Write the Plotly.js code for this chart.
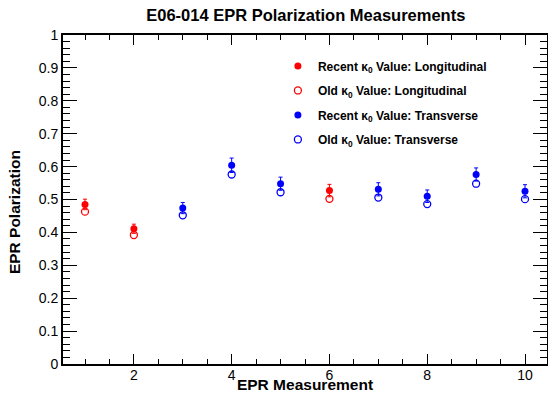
<!DOCTYPE html>
<html>
<head>
<meta charset="utf-8">
<script src="https://cdn.plot.ly/plotly-3.0.1.min.js"></script>
<style>html,body{margin:0;padding:0;background:#fff;}#chart{width:548px;height:393px;}</style>
</head>
<body>
<div id="chart"></div>
<script>
// Data
const longX = [1, 2, 6];
const longRecent = [0.485, 0.411, 0.527];
const longRecentErr = [0.016, 0.014, 0.019];
const longOld = [0.463, 0.392, 0.502];

const transX = [3, 4, 5, 7, 8, 9, 10];
const transRecent = [0.474, 0.604, 0.548, 0.531, 0.510, 0.576, 0.525];
const transRecentErr = [0.017, 0.022, 0.020, 0.020, 0.019, 0.020, 0.020];
const transOld = [0.452, 0.576, 0.522, 0.506, 0.486, 0.548, 0.501];

const seriesNames = [
  'Recent κ<sub>0</sub> Value: Longitudinal',
  'Old κ<sub>0</sub> Value: Longitudinal',
  'Recent κ<sub>0</sub> Value: Transverse',
  'Old κ<sub>0</sub> Value: Transverse'
];
const chartTitle = 'E06-014 EPR Polarization Measurements';
const xTitle = 'EPR Measurement';
const yTitle = 'EPR Polarization';

const RED = '#ff0000', BLUE = '#0000ff';
const FONT = 'Liberation Sans, Arial, Helvetica, sans-serif';

function mk(x, y, err, name, color, filled, grp) {
  const t = {
    type: 'scatter', mode: 'markers', x: x, y: y, name: name,
    legendgroup: grp,
    marker: {
      symbol: filled ? 'circle' : 'circle-open',
      size: 7, color: color,
      line: {color: color, width: filled ? 0 : 1.3}
    }
  };
  if (err) t.error_y = {type: 'data', array: err, visible: true, color: color, thickness: 1, width: 2};
  return t;
}

const traces = [
  mk(longX, longRecent, longRecentErr, seriesNames[0], RED, true, 'a'),
  mk(longX, longOld, null, seriesNames[1], RED, false, 'b'),
  mk(transX, transRecent, transRecentErr, seriesNames[2], BLUE, true, 'c'),
  mk(transX, transOld, null, seriesNames[3], BLUE, false, 'd')
];

const layout = {
  width: 548, height: 393,
  margin: {l: 63, r: 1, t: 35, b: 29},
  paper_bgcolor: '#fff', plot_bgcolor: '#fff',
  font: {family: FONT, color: '#000', size: 14},
  title: {
    text: chartTitle,
    font: {family: FONT, size: 16.5, weight: 'bold', color: '#000'},
    x: 0.558, xanchor: 'center', y: 0.962, yanchor: 'middle'
  },
  showlegend: true,
  legend: {
    x: 0.444, y: 0.95, xanchor: 'left', yanchor: 'top',
    bgcolor: 'rgba(0,0,0,0)',
    font: {family: FONT, size: 12, weight: 'bold', color: '#000'},
    traceorder: 'grouped', tracegroupgap: 5.5
  },
  xaxis: {
    range: [0.55, 10.45],
    showgrid: false, zeroline: false,
    showline: true, linecolor: '#000', linewidth: 2, mirror: 'allticks',
    ticks: 'inside', ticklen: 10, tickwidth: 1, tickcolor: '#000',
    tick0: 0, dtick: 2,
    minor: {ticks: 'inside', ticklen: 5, tickwidth: 1, tickcolor: '#000', dtick: 0.5, tick0: 0, showgrid: false},
    tickfont: {family: FONT, size: 14, color: '#000'},
    ticklabelstandoff: -3,
    title: {text: xTitle, font: {family: FONT, size: 15.5, weight: 'bold', color: '#000'}, standoff: 3}
  },
  yaxis: {
    range: [0, 1],
    showgrid: false, zeroline: false,
    showline: true, linecolor: '#000', linewidth: 2, mirror: 'allticks',
    ticks: 'inside', ticklen: 14, tickwidth: 1, tickcolor: '#000',
    tick0: 0, dtick: 0.1,
    minor: {ticks: 'inside', ticklen: 7, tickwidth: 1, tickcolor: '#000', dtick: 0.02, tick0: 0, showgrid: false},
    tickfont: {family: FONT, size: 14, color: '#000'}
  },
  annotations: [{
    text: yTitle, textangle: -90, showarrow: false,
    xref: 'paper', yref: 'paper', x: -0.101, y: 0.462,
    xanchor: 'center', yanchor: 'middle',
    font: {family: FONT, size: 15.5, weight: 'bold', color: '#000'}
  }]
};

Plotly.newPlot('chart', traces, layout, {displayModeBar: false, staticPlot: true});
</script>
</body>
</html>
